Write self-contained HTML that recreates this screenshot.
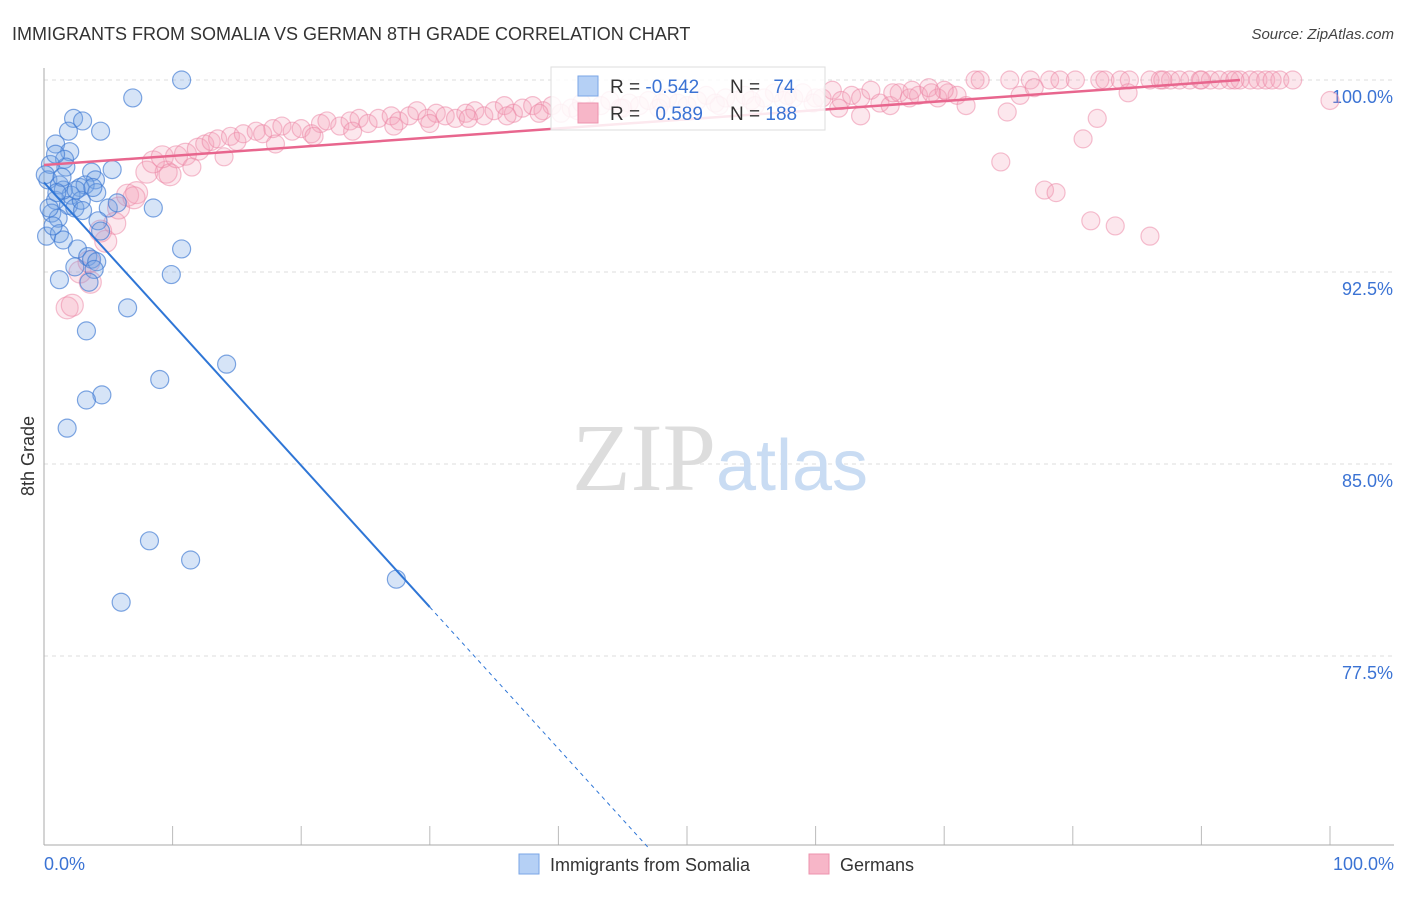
<!DOCTYPE html>
<html><head><meta charset="utf-8"><style>
body{margin:0;background:#fff;font-family:"Liberation Sans",sans-serif}
</style></head><body>
<svg id="chart" width="1406" height="892" xmlns="http://www.w3.org/2000/svg" font-family="Liberation Sans, sans-serif">
<text x="12" y="40" font-size="18" fill="#333">IMMIGRANTS FROM SOMALIA VS GERMAN 8TH GRADE CORRELATION CHART</text>
<text x="1394" y="39" font-size="15" fill="#444" text-anchor="end" font-style="italic">Source: ZipAtlas.com</text>
<g id="grid"></g>
<text x="720" y="490" font-size="96" text-anchor="middle" font-family="Liberation Serif, serif" fill="#ddd">ZIP<tspan fill="#c9dcf3" font-family="Liberation Sans, sans-serif" font-size="72">atlas</tspan></text>
<line x1="44" y1="68" x2="44" y2="845" stroke="#aaa"/>
<line x1="44" y1="845" x2="1394" y2="845" stroke="#aaa"/>
<text transform="translate(34,456) rotate(-90)" font-size="18" fill="#333" text-anchor="middle">8th Grade</text>
<text x="44" y="870" font-size="18" fill="#3b73d4">0.0%</text>
<text x="1394" y="870" font-size="18" fill="#3b73d4" text-anchor="end">100.0%</text>
<g id="pinkpts"></g><g id="bluepts"></g><g id="lines"></g>
<g>
<rect x="551" y="67" width="274" height="63" fill="#fff" fill-opacity="0.85" stroke="#ddd"/>
<rect x="578" y="76" width="20" height="20" fill="#b5d0f5" stroke="#7aa6e6"/>
<rect x="578" y="103" width="20" height="20" fill="#f7b6c8" stroke="#ec93ae"/>
<text x="610" y="93" font-size="19" fill="#333">R = <tspan fill="#3b73d4">-0.542</tspan></text>
<text x="730" y="93" font-size="19" fill="#333">N = <tspan fill="#3b73d4" dx="8">74</tspan></text>
<text x="610" y="120" font-size="19" fill="#333">R = <tspan fill="#3b73d4" dx="10">0.589</tspan></text>
<text x="730" y="120" font-size="19" fill="#333">N = <tspan fill="#3b73d4">188</tspan></text>
</g>
<g>
<rect x="519" y="854" width="20" height="20" fill="#b5d0f5" stroke="#7aa6e6"/>
<text x="550" y="871" font-size="18" fill="#333">Immigrants from Somalia</text>
<rect x="809" y="854" width="20" height="20" fill="#f7b6c8" stroke="#ec93ae"/>
<text x="840" y="871" font-size="18" fill="#333">Germans</text>
</g>
</svg>
<script>
const yTicks=[100,92.5,85,77.5];
const yTickLabels=["100.0%","92.5%","85.0%","77.5%"];
const xTicks=[0,10,20,30,40,50,60,70,80,90,100];
const blueX=[10.7,6.9,2.3,3.0,4.4,1.9,0.9,2.0,1.6,1.7,5.3,3.7,4.0,0.5,0.3,1.2,2.8,3.2,4.1,2.1,0.9,1.9,2.4,5.0,8.5,5.7,0.6,1.1,4.2,0.2,1.2,1.5,4.4,2.6,10.7,3.4,3.7,4.1,2.4,3.9,9.9,3.5,1.2,6.5,3.3,14.2,9.0,4.5,3.3,1.8,8.2,11.4,27.4,6.0,0.9,0.1,1.5,2.9,0.4,3.0,1.4,0.7,2.5,3.8,1.0];
const blueY=[100.0,99.3,98.5,98.4,98.0,98.0,97.5,97.2,96.9,96.6,96.5,96.4,96.1,96.7,96.1,95.9,95.8,95.9,95.6,95.5,95.3,95.1,95.0,95.0,95.0,95.2,94.8,94.6,94.5,93.9,94.0,93.75,94.1,93.4,93.4,93.1,93.0,92.9,92.7,92.6,92.4,92.1,92.2,91.1,90.2,88.9,88.3,87.7,87.5,86.4,82.0,81.25,80.5,79.6,97.1,96.3,95.7,95.3,95.0,94.9,96.2,94.3,95.7,95.8,95.6];
const pinkX=[1.8,2.2,3.6,2.8,3.5,4.8,5.5,4.4,5.8,6.5,7.2,7.0,8.0,9.5,9.8,8.5,9.2,10.3,11.0,12.0,12.5,13.0,13.5,14.5,15.0,15.5,16.5,17.0,17.8,18.5,19.3,20.0,20.8,21.5,22.0,23.0,23.8,24.5,25.2,26.0,27.0,27.6,28.4,29.0,29.8,30.5,31.2,32.0,32.8,33.5,34.2,35.0,35.8,36.5,37.2,38.0,38.8,39.5,40.2,41.0,41.8,42.5,43.3,44.0,44.8,45.5,46.3,47.0,47.8,48.5,49.3,50.0,50.8,51.5,52.2,53.0,53.8,54.5,55.3,56.0,56.8,57.5,58.3,59.0,59.8,60.5,61.3,62.0,62.8,63.5,64.3,65.0,65.8,66.5,67.3,68.0,68.8,69.5,70.3,71.0,71.7,63.5,61.8,72.4,72.8,75.1,76.7,78.2,79.0,80.2,82.1,82.5,83.7,84.4,86.0,86.8,87.6,88.3,89.1,89.9,90.7,91.4,92.2,93.0,93.8,94.4,95.0,96.1,97.1,87.0,90.0,92.6,95.5,74.4,77.8,78.7,81.4,83.3,86.0,80.8,81.9,74.9,84.3,100,75.9,77.0,70.0,69.0,67.5,66.0,60.0,57.8,55.0,52.5,48.0,45.0,41.5,38.5,36.0,33.0,30.0,27.2,24.0,21.0,18.0,14.0,11.5];
const pinkY=[91.1,91.2,92.1,92.5,92.9,93.7,94.4,94.1,95.0,95.5,95.6,95.4,96.4,96.4,96.3,96.8,97.0,97.0,97.1,97.3,97.5,97.6,97.7,97.8,97.6,97.9,98.0,97.9,98.1,98.2,98.0,98.1,97.9,98.3,98.4,98.2,98.4,98.5,98.3,98.5,98.6,98.4,98.6,98.8,98.5,98.7,98.6,98.5,98.7,98.8,98.6,98.8,99.0,98.7,98.9,99.0,98.8,99.0,98.7,98.9,99.1,98.8,99.0,99.2,98.9,99.1,99.0,99.2,98.9,99.3,99.1,99.0,99.2,99.4,99.1,99.3,99.2,99.4,99.0,99.3,99.5,99.2,99.3,99.5,99.1,99.3,99.6,99.2,99.4,99.3,99.6,99.1,99.0,99.5,99.3,99.4,99.7,99.3,99.5,99.4,99.0,98.6,98.9,100,100,100,100,100,100,100,100,100,100,100,100,100,100,100,100,100,100,100,100,100,100,100,100,100,100,100,100,100,100,96.8,95.7,95.6,94.5,94.3,93.9,97.7,98.5,98.75,99.5,99.2,99.4,99.7,99.6,99.5,99.6,99.5,99.3,99.4,99.2,99.0,99.1,98.9,98.8,98.7,98.6,98.5,98.3,98.2,98.0,97.8,97.5,97.0,96.6];
const blueFit={a:96.0,b:-0.553,solidEnd:30,dashEnd:47};
const pinkFit={a:96.68,b:0.0357,end:93};
const NS="http://www.w3.org/2000/svg";
function sx(v){return 44+v*12.86;}
function sy(v){return 80+(100-v)*25.6;}
function mk(tag,attrs,parent){const e=document.createElementNS(NS,tag);for(const k in attrs)e.setAttribute(k,attrs[k]);parent.appendChild(e);return e;}
const grid=document.getElementById('grid');
yTicks.forEach((t,i)=>{
 const l=mk('line',{x1:44,x2:1394,y1:sy(t),y2:sy(t),stroke:'#ddd','stroke-dasharray':'4,4'},grid);
 
 
 const tx=mk('text',{x:1393,y:sy(t)+23,'font-size':18,fill:'#3b73d4','text-anchor':'end'},grid);
 tx.textContent=yTickLabels[i];
 
 
});
xTicks.forEach(t=>{
 const l=mk('line',{x1:sx(t),x2:sx(t),y1:826,y2:845,stroke:'#bbb'},grid);
 
 
});
const pg=document.getElementById('pinkpts');
pinkX.forEach((x,i)=>{
 const c=mk('circle',{cx:sx(x),cy:sy(pinkY[i]),r:i<20?11:9,fill:'rgba(244,160,185,0.25)',stroke:'rgba(235,130,162,0.5)','stroke-width':1.2},pg);
 
 
});
const bg=document.getElementById('bluepts');
blueX.forEach((x,i)=>{
 const c=mk('circle',{cx:sx(x),cy:sy(blueY[i]),r:9,fill:'rgba(120,165,230,0.3)',stroke:'rgba(60,120,210,0.65)','stroke-width':1.2},bg);
 
 
});
const lg=document.getElementById('lines');
const l1=mk('line',{x1:sx(0),y1:sy(blueFit.a),x2:sx(blueFit.solidEnd),y2:sy(blueFit.a+blueFit.b*blueFit.solidEnd),stroke:'#2f76d6','stroke-width':2},lg);


const l2=mk('line',{x1:sx(blueFit.solidEnd),y1:sy(blueFit.a+blueFit.b*blueFit.solidEnd),x2:sx(blueFit.dashEnd),y2:sy(blueFit.a+blueFit.b*blueFit.dashEnd),stroke:'#2f76d6','stroke-width':1,'stroke-dasharray':'4,4'},lg);


const l3=mk('line',{x1:sx(0),y1:sy(pinkFit.a),x2:sx(pinkFit.end),y2:sy(pinkFit.a+pinkFit.b*pinkFit.end),stroke:'#e8668e','stroke-width':2.5},lg);


</script>
</body></html>
